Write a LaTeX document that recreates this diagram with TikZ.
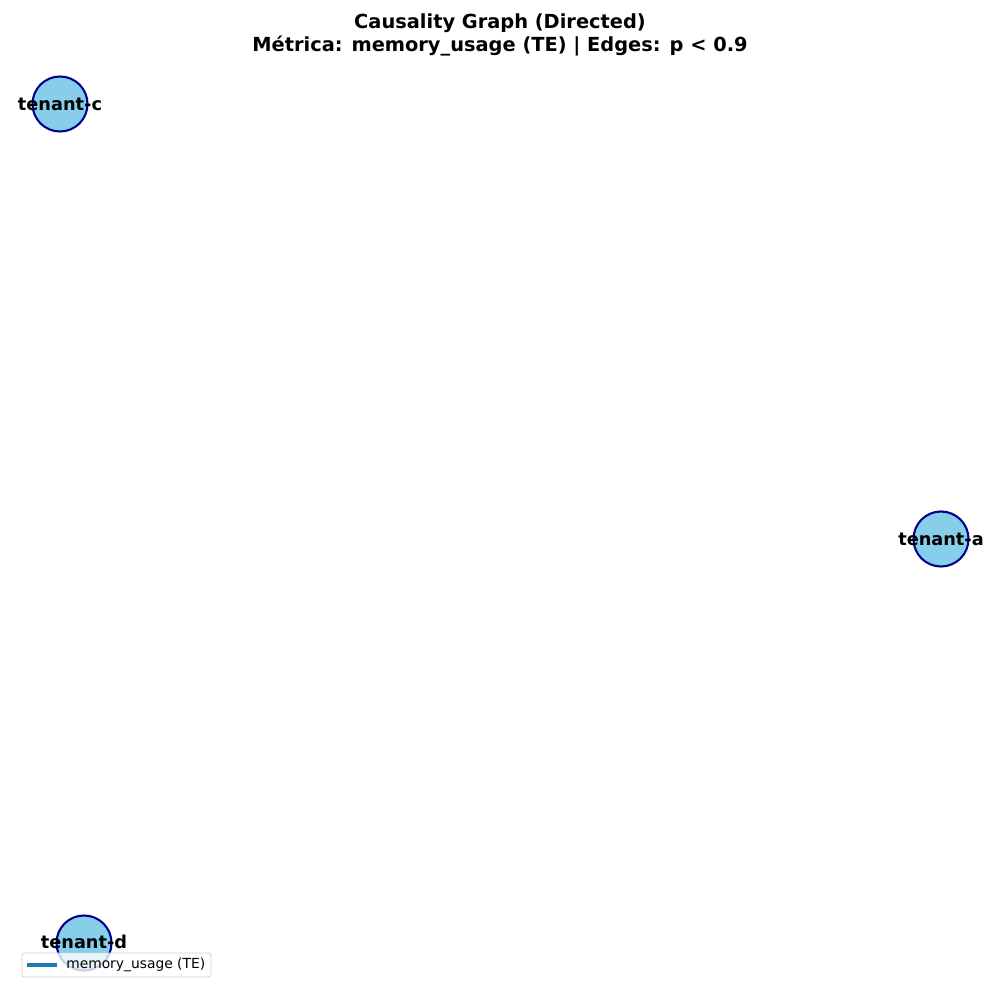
\documentclass[tikz,border=0pt]{standalone}
\usepackage{fontspec}
\setmainfont{DejaVu Sans}
\usetikzlibrary{positioning}
\definecolor{nodefill}{HTML}{87CEEB}
\definecolor{nodeedge}{HTML}{00008B}
\definecolor{lineblue}{HTML}{1F77B4}
\tikzset{
	tenant/.style={circle, draw=nodeedge, fill=nodefill, line width=1.5pt, minimum size=0.55in, inner sep=0pt},
	tlabel/.style={font=\bfseries\fontsize{12.8}{14}\selectfont, inner sep=0pt},
	titletext/.style={font=\bfseries\fontsize{14}{16}\selectfont, align=center, inner sep=0pt},
	legendbox/.style={draw=black!18, fill=white, fill opacity=0.8, rounded corners=2pt, line width=0.6pt}
}

\begin{document}
\begin{tikzpicture}[x=0.01in, y=-0.01in]
        \useasboundingbox (0,0) rectangle (1000,1000);

        \node[titletext] (title) at (500,35) {Causality Graph (Directed)\\Métrica: memory\_usage (TE) | Edges: p < 0.9};

        \node[tenant] (tc) at (60,104) {};
        \node[tenant] (ta) at (941,539) {};
        \node[tenant] (td) at (84,943) {};

        \node[tlabel] (tclbl) at (tc.center) {tenant-c};
        \node[tlabel] (talbl) at (ta.center) {tenant-a};
        \node[tlabel] (tdlbl) at ([yshift=0.01in]td.center) {tenant-d};

        % legend
        \draw[legendbox] (22,953) rectangle (211,977);
        \coordinate (leg1) at (27,965);
        \coordinate (leg2) at (57,965);
        \draw[lineblue, line width=2.2pt] (leg1) -- (leg2);
        \node[anchor=west, inner sep=0pt, font=\fontsize{10}{12}\selectfont] (legtext) at (66,965) {memory\_usage (TE)};
    \end{tikzpicture}
\end{document}
